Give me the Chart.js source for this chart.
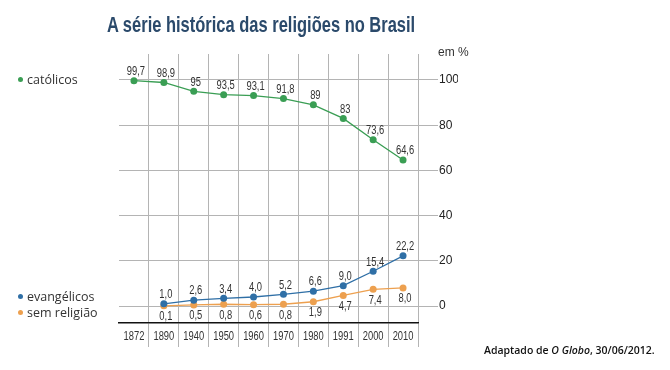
<!DOCTYPE html>
<html>
<head>
<meta charset="utf-8">
<script src="https://cdn.jsdelivr.net/npm/chart.js@4"></script>
<style>
  body { margin: 0; background: #fff; }
  #wrap { position: relative; width: 670px; height: 370px; }
  #wrap canvas { position: absolute; left: 0; top: 0; }
  .txt { position: absolute; white-space: nowrap; color: #333; }
  #title { left: 107px; top: 14px; font: bold 22px "Liberation Sans", sans-serif; line-height: 22px; color: #2b4a6b; transform-origin: 0 0; }
  .leg { font: 12.5px "Open Sans", sans-serif; line-height: 14px; }
  .dot { display: inline-block; width: 5px; height: 5px; border-radius: 50%; margin-right: 4px; vertical-align: 2px; }
  #unit { left: 438px; top: 45px; font: 12px "Liberation Sans", sans-serif; }
  #source { left: 484px; top: 343px; font: 600 10.5px "Open Sans", sans-serif; color: #111; }
</style>
</head>
<body>
<div id="wrap">
  <canvas id="chart"></canvas>
  <div id="title" class="txt">A série histórica das religiões no Brasil</div>
  <div class="txt leg" style="left:18px; top:73px;"><span class="dot" style="background:#3a9e54"></span>católicos</div>
  <div class="txt leg" style="left:18px; top:290px;"><span class="dot" style="background:#2f6fa6"></span>evangélicos</div>
  <div class="txt leg" style="left:18px; top:306px;"><span class="dot" style="background:#eda04f"></span>sem religião</div>
  <div id="unit" class="txt">em %</div>
  <div id="source" class="txt">Adaptado de <i>O Globo</i>, 30/06/2012.</div>
</div>
<script>
// dados
const years = ['1872', '1890', '1940', '1950', '1960', '1970', '1980', '1991', '2000', '2010'];
const catolicos = [99.7, 98.9, 95, 93.5, 93.1, 91.8, 89, 83, 73.6, 64.6];
const evangelicos = [null, 1.0, 2.6, 3.4, 4.0, 5.2, 6.6, 9.0, 15.4, 22.2];
const semReligiao = [null, 0.1, 0.5, 0.8, 0.6, 0.8, 1.9, 4.7, 7.4, 8.0];
const yTicks = [0, 20, 40, 60, 80, 100];

const green = '#3a9e54';
const blue = '#2f6fa6';
const orange = '#eda04f';

// title is a condensed face in the original: squeeze it to the same width
const title = document.getElementById('title');
title.style.transform = 'scaleX(' + (308 / title.offsetWidth) + ')';

const labelFont = '12px "Liberation Sans", sans-serif';
const squeeze = 0.78;

function narrowText(ctx, txt, x, y) {
    ctx.save();
    ctx.translate(x, y);
    ctx.scale(squeeze, 1);
    ctx.fillText(txt, 0, 0);
    ctx.restore();
}

// rótulos de valor e anos, em fonte estreita
const valueLabels = {
    id: 'valueLabels',
    afterDatasetsDraw(chart) {
        const ctx = chart.ctx;
        ctx.save();
        ctx.font = labelFont;
        ctx.fillStyle = '#333';
        ctx.textAlign = 'center';
        ctx.textBaseline = 'middle';
        chart.data.datasets.forEach((ds, i) => {
            const meta = chart.getDatasetMeta(i);
            meta.data.forEach((pt, j) => {
                const v = ds.data[j];
                if (v === null) return;
                let txt = ds.decimals ? v.toFixed(1) : String(v);
                txt = txt.replace('.', ',');
                const dy = ds.below ? 11 : -9;
                narrowText(ctx, txt, pt.x + 2, pt.y + dy);
            });
        });
        const xs = chart.scales.x;
        years.forEach((yr, i) => {
            narrowText(ctx, yr, xs.getPixelForValue(i), xs.top + 14);
        });
        ctx.restore();
    }
};

function makeSet(data, color, decimals, below) {
    return {
        data: data,
        borderColor: color,
        backgroundColor: color,
        borderWidth: 1.3,
        pointRadius: 3.5,
        pointHoverRadius: 3.5,
        pointBorderWidth: 0,
        tension: 0,
        decimals: decimals,
        below: below
    };
}

const chart = new Chart(document.getElementById('chart'), {
    type: 'line',
    data: {
        labels: years,
        datasets: [
            makeSet(catolicos, green, false, false),
            makeSet(evangelicos, blue, true, false),
            makeSet(semReligiao, orange, true, true)
        ]
    },
    options: {
        responsive: true,
        maintainAspectRatio: false,
        animation: false,
        layout: { padding: { left: 119, top: 54, right: 212, bottom: 22 } },
        plugins: {
            legend: { display: false },
            tooltip: { enabled: false }
        },
        scales: {
            x: {
                offset: true,
                afterFit: (axis) => { axis.height = 25; },
                grid: {
                    offset: true,
                    tickLength: 24,
                    color: (c) => (c.index === 0 || c.index === years.length) ? 'rgba(0,0,0,0)' : '#b4b4b4',
                    lineWidth: 1
                },
                border: { display: true, color: '#111', width: 1.5 },
                ticks: { display: false }
            },
            y: {
                position: 'right',
                min: -7.5,
                max: 111.5,
                afterFit: (axis) => { axis.width = 40; },
                afterBuildTicks: (axis) => { axis.ticks = yTicks.map(v => ({ value: v })); },
                grid: { color: '#b4b4b4', lineWidth: 1, tickLength: 20 },
                border: { display: false },
                ticks: {
                    padding: 1,
                    color: '#222',
                    font: { family: '"Liberation Sans", sans-serif', size: 12 }
                }
            }
        }
    },
    plugins: [valueLabels]
});
</script>
</body>
</html>
